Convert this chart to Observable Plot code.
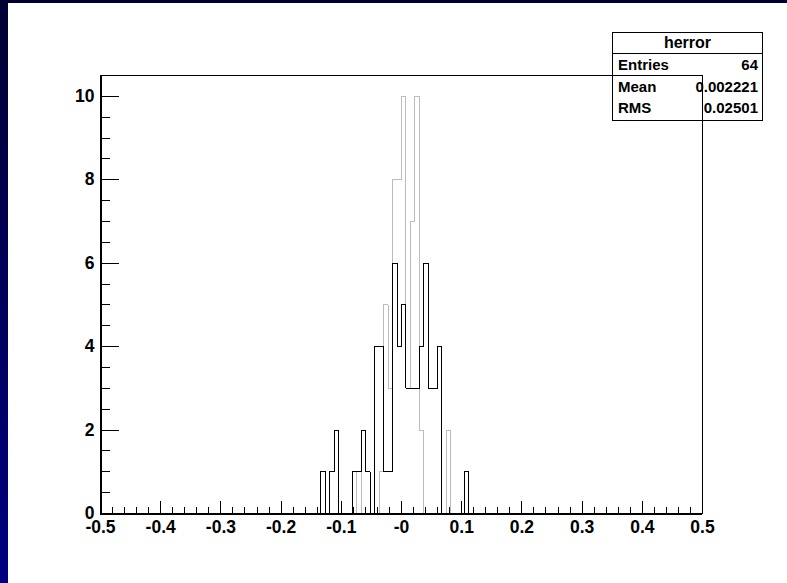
<!DOCTYPE html>
<html>
<head>
<meta charset="utf-8">
<script src="https://cdn.jsdelivr.net/npm/d3@7"></script>
<script src="https://cdn.jsdelivr.net/npm/@observablehq/plot@0.6"></script>
<style>
  html, body { margin: 0; padding: 0; background: #fff; }
  #wrap { position: relative; width: 787px; height: 583px; overflow: hidden; background: #fff;
          font-family: "Liberation Sans", Arial, Helvetica, sans-serif; }
  #chart { position: absolute; left: 0; top: 0; }
  #bandLeft { position: absolute; left: 0; top: 0; width: 8px; height: 583px;
              background: linear-gradient(#000033, #000080); }
  #bandTop { position: absolute; left: 0; top: 0; width: 787px; height: 3px; background: #000033; }
  #stats { position: absolute; left: 612px; top: 32px; width: 149px; height: 87px;
           border: 1px solid #000; font-weight: bold; font-size: 15px; color: #000; box-sizing: content-box; }
  #stats .title { height: 20px; line-height: 20px; text-align: center; font-size: 16px; border-bottom: 1px solid #000; }
  #stats .row { height: 21.5px; line-height: 21.5px; display: flex; justify-content: space-between; padding: 0 4px 0 5px; }
</style>
</head>
<body>
<div id="wrap">
  <div id="chart"></div>
  <div id="bandLeft"></div>
  <div id="bandTop"></div>
  <div id="stats"></div>
</div>
<script>
// ---- histogram definition (TH1 "herror") ----
const nBins = 134;
const xLow = -0.5;
const xHigh = 0.5;
// index (0-based) of the first bin listed in the count arrays
const firstBin = 49;

// gray histogram (herror, drawn first)
const grayCounts = [0,0,0,0,0,0,0,0,1,0,0,0,0,1,5,3,8,8,10,3,7,10,2,0,0,0,0,0,2,0,0,0,0];
// black histogram (drawn "same")
const blackCounts = [1,0,1,2,0,0,0,1,1,2,1,0,4,4,1,1,6,4,5,3,3,3,4,6,3,3,4,0,0,0,0,0,1];

// axes
const xMajorTicks = [-0.5,-0.4,-0.3,-0.2,-0.1,0,0.1,0.2,0.3,0.4,0.5];
const xTickLabels = ["-0.5","-0.4","-0.3","-0.2","-0.1","-0","0.1","0.2","0.3","0.4","0.5"];
const yMajorTicks = [0,2,4,6,8,10];
const yTickLabels = ["0","2","4","6","8","10"];
const yMax = 10.5;

// stats box
const statsTitle = "herror";
const statsNames = ["Entries","Mean","RMS"];
const statsValues = ["64","0.002221","0.02501"];

// ---- build ----
const binW = (xHigh - xLow) / nBins;
function stepPoints(counts) {
  const pts = [{x: xLow + firstBin * binW, y: 0}];
  counts.forEach((c, i) => pts.push({x: xLow + (firstBin + i) * binW, y: c}));
  const end = xLow + (firstBin + counts.length) * binW;
  pts.push({x: end, y: counts[counts.length - 1]});
  pts.push({x: end, y: 0});
  return pts;
}
const grayPts = stepPoints(grayCounts);
const blackPts = stepPoints(blackCounts);

const xMinor = d3.range(0, 51).map(i => xLow + i * 0.02).filter(v => !xMajorTicks.some(t => Math.abs(t - v) < 1e-9));
const yMinor = d3.range(1, 21).map(i => i * 0.5).filter(v => !yMajorTicks.includes(v));

const lineShape = {draw(context, l) { context.moveTo(0, 0); context.lineTo(0, -l); }};
const font = "Liberation Sans, Arial, Helvetica, sans-serif";

const plot = Plot.plot({
  width: 787,
  height: 583,
  marginLeft: 100,
  marginRight: 85,
  marginTop: 75,
  marginBottom: 70,
  style: {background: "transparent", fontFamily: font},
  x: {domain: [xLow, xHigh], axis: null},
  y: {domain: [0, yMax], axis: null},
  marks: [
    Plot.line(grayPts, {x: "x", y: "y", curve: "step-after", stroke: "#bcbcbc", strokeWidth: 1, shapeRendering: "crispEdges"}),
    Plot.line(blackPts, {x: "x", y: "y", curve: "step-after", stroke: "#000", strokeWidth: 1, shapeRendering: "crispEdges"}),
    Plot.frame({stroke: "#000", strokeWidth: 1, shapeRendering: "crispEdges"}),
    Plot.ruleY([0], {stroke: "#000", strokeWidth: 2, shapeRendering: "crispEdges"}),
    Plot.ruleX([xLow], {stroke: "#000", strokeWidth: 2, shapeRendering: "crispEdges"}),
    // x ticks (inward)
    Plot.vector(xMajorTicks, {x: d => d, y: 0, length: 12, rotate: 0, anchor: "start", shape: lineShape, stroke: "#000", strokeWidth: 1, shapeRendering: "crispEdges"}),
    Plot.vector(xMinor, {x: d => d, y: 0, length: 6, rotate: 0, anchor: "start", shape: lineShape, stroke: "#000", strokeWidth: 1, shapeRendering: "crispEdges"}),
    // y ticks (inward)
    Plot.vector(yMajorTicks, {x: xLow, y: d => d, length: 18, rotate: 90, anchor: "start", shape: lineShape, stroke: "#000", strokeWidth: 1, shapeRendering: "crispEdges"}),
    Plot.vector(yMinor, {x: xLow, y: d => d, length: 9, rotate: 90, anchor: "start", shape: lineShape, stroke: "#000", strokeWidth: 1, shapeRendering: "crispEdges"}),
    // labels
    Plot.text(xMajorTicks, {x: d => d, y: 0, text: (d, i) => xTickLabels[i], dy: 7, lineAnchor: "top", fontSize: 17.5, fontWeight: "bold", fill: "#000"}),
    Plot.text(yMajorTicks, {x: xLow, y: d => d, text: (d, i) => yTickLabels[i], dx: -6, textAnchor: "end", fontSize: 17.5, fontWeight: "bold", fill: "#000"})
  ]
});
document.getElementById("chart").appendChild(plot);

const stats = document.getElementById("stats");
const t = document.createElement("div");
t.className = "title"; t.textContent = statsTitle; stats.appendChild(t);
statsNames.forEach((n, i) => {
  const r = document.createElement("div");
  r.className = "row";
  const a = document.createElement("span"); a.textContent = n;
  const b = document.createElement("span"); b.textContent = statsValues[i];
  r.appendChild(a); r.appendChild(b); stats.appendChild(r);
});
</script>
</body>
</html>
